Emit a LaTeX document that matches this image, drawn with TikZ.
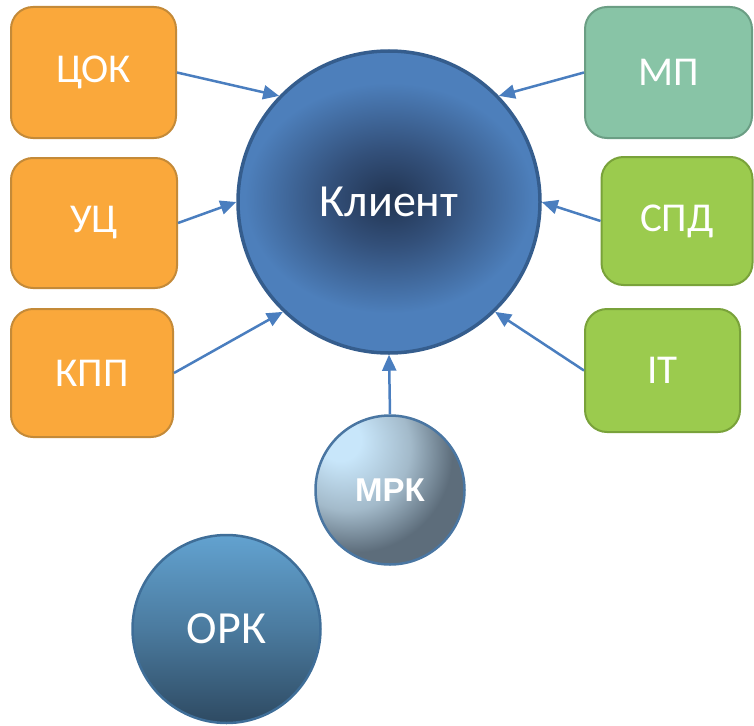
\documentclass[tikz,border=0pt]{standalone}
\usepackage{fontspec}
\setmainfont{Carlito}
\newfontfamily\boldsans{Liberation Sans}
\usetikzlibrary{arrows.meta}
\definecolor{orfill}{HTML}{FAA83B}
\definecolor{ordraw}{HTML}{C48A38}
\definecolor{tlfill}{HTML}{88C4A6}
\definecolor{tldraw}{HTML}{6B9E84}
\definecolor{grfill}{HTML}{9BCB4E}
\definecolor{grdraw}{HTML}{79A23A}
\definecolor{arrc}{HTML}{4A7EBF}
\definecolor{cdark}{HTML}{243857}
\definecolor{cmid}{HTML}{33507A}
\definecolor{cblue}{HTML}{4D7FBB}
\definecolor{cborder}{HTML}{355D8D}
\definecolor{mlight}{HTML}{C8E6FA}
\definecolor{mmid}{HTML}{A3BACA}
\definecolor{mdark}{HTML}{5D6D7B}
\definecolor{mborder}{HTML}{4A76A2}
\definecolor{otop}{HTML}{62A2D0}
\definecolor{obot}{HTML}{2E4A62}
\definecolor{oborder}{HTML}{3F6E98}
\pgfdeclareradialshading{clientcore}{\pgfpoint{0bp}{0bp}}{color(0bp)=(cdark); color(1.2bp)=(cdark); color(7.5bp)=(cmid); color(18bp)=(cblue); color(100bp)=(cblue)}
\pgfdeclareradialshading{mrkshade}{\pgfpoint{-18bp}{18bp}}{color(0bp)=(mlight); color(7bp)=(mlight); color(21bp)=(mmid); color(33bp)=(mdark); color(100bp)=(mdark)}
\tikzset{
  box/.style={rectangle, rounded corners=22pt, line width=2pt, text=white, inner sep=0pt, font=\fontsize{41}{48}\selectfont},
  orbox/.style={box, fill=orfill, draw=ordraw},
  tlbox/.style={box, fill=tlfill, draw=tldraw},
  grbox/.style={box, fill=grfill, draw=grdraw},
  arr/.style={draw=arrc, line width=2.5pt, -{Triangle[length=16pt, width=14pt]}},
}
\begin{document}
\begin{tikzpicture}[x=1pt, y=-1pt]
\useasboundingbox (0,0) rectangle (754,725);
% boxes
\node[orbox, minimum width=165pt, minimum height=131pt] (cok) at (93.5,72.5) {ЦОК};
\node[orbox, minimum width=166pt, minimum height=130pt] (uc) at (94,223) {УЦ};
\node[orbox, minimum width=162pt, minimum height=128pt] (kpp) at (92,373) {КПП};
\node[tlbox, minimum width=167pt, minimum height=131pt] (mp) at (668.5,72.5) {МП};
\node[grbox, minimum width=151pt, minimum height=128pt] (spd) at (677,221) {СПД};
\node[grbox, minimum width=155pt, minimum height=123pt] (it) at (662.5,370.5) {IT};
% circles
\node[circle, minimum size=302pt, inner sep=0pt, line width=3.5pt, draw=cborder, fill=cblue, text=white, font=\fontsize{46}{54}\selectfont,
  path picture={\shade[shading=clientcore] ([yshift=4pt]path picture bounding box.center) ellipse [x radius=200pt, y radius=160pt];}] (client) at (389,202) {Клиент};
\node[circle, minimum size=149pt, inner sep=0pt, line width=2.5pt, draw=mborder, shading=mrkshade, text=white, font=\boldsans\bfseries\fontsize{33}{40}\selectfont] (mrk) at (390,490) {МРК};
\node[circle, minimum size=188pt, inner sep=0pt, line width=2.5pt, draw=oborder, top color=otop, bottom color=obot, middle color=otop!55!obot, text=white, font=\fontsize{46}{54}\selectfont] (ork) at (226.5,629) {ОРК};
% arrows
\draw[arr] (cok.east) -- (client.136);
\draw[arr] (uc.east) -- (client.180);
\draw[arr] (kpp.east) -- (client.226);
\draw[arr] (mp.west) -- (client.44.7);
\draw[arr] (spd.west) -- (client.0);
\draw[arr] (it.west) -- (client.314);
\draw[arr] (mrk.north) -- (client.270);
\end{tikzpicture}
\end{document}
